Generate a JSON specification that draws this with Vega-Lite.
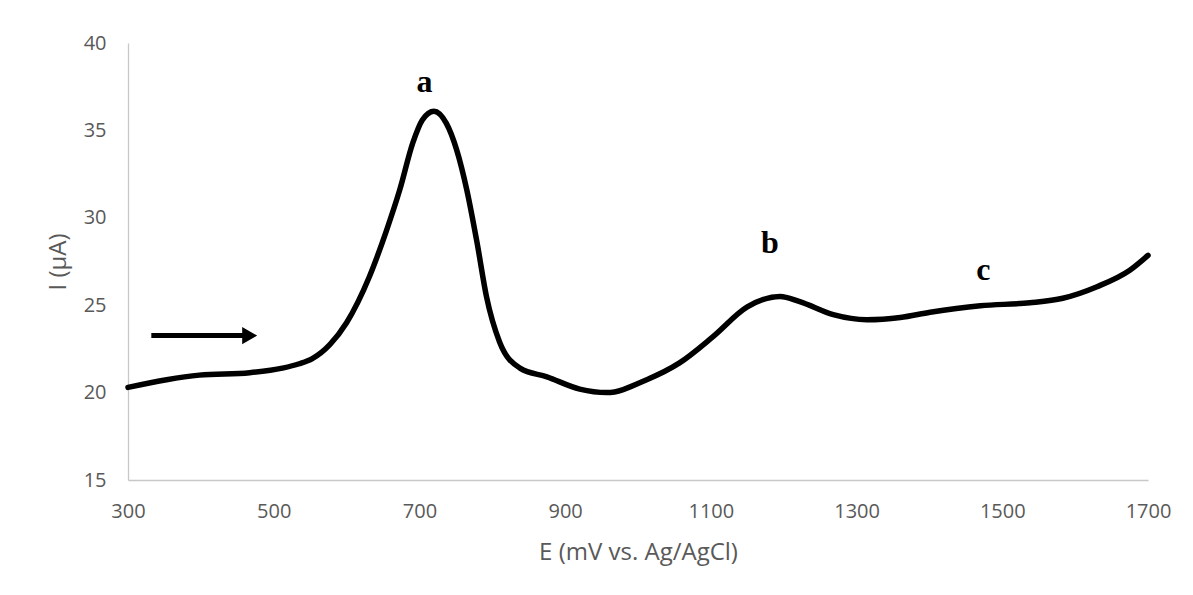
{
  "$schema": "https://vega.github.io/schema/vega-lite/v6.json",
  "width": 1020,
  "height": 437,
  "autosize": {"type": "none"},
  "padding": {"left": 128, "top": 43, "right": 45, "bottom": 115},
  "background": "white",
  "config": {
    "view": {"stroke": null},
    "axis": {
      "grid": false,
      "ticks": false,
      "domainColor": "#c8c8c8",
      "domainWidth": 1.3,
      "labelColor": "#595959",
      "titleColor": "#595959",
      "labelFont": "Open Sans",
      "titleFont": "Open Sans",
      "labelFontSize": 20,
      "titleFontSize": 24,
      "titleFontWeight": "normal",
      "labelFlush": false,
      "labelOverlap": false
    }
  },
  "datasets": {
    "curve": [
      {"E": 300, "I": 20.3},
      {"E": 353, "I": 20.74},
      {"E": 398, "I": 21.0},
      {"E": 467, "I": 21.14},
      {"E": 512, "I": 21.4},
      {"E": 535, "I": 21.65},
      {"E": 553, "I": 21.95},
      {"E": 577, "I": 22.75},
      {"E": 600, "I": 24.0},
      {"E": 631, "I": 26.6},
      {"E": 655, "I": 29.3},
      {"E": 673, "I": 31.6},
      {"E": 691, "I": 34.3},
      {"E": 704, "I": 35.6},
      {"E": 720, "I": 36.1},
      {"E": 737, "I": 35.4},
      {"E": 751, "I": 33.9},
      {"E": 765, "I": 31.6},
      {"E": 779, "I": 28.6},
      {"E": 792, "I": 25.5},
      {"E": 810, "I": 22.9},
      {"E": 838, "I": 21.4},
      {"E": 875, "I": 20.9},
      {"E": 920, "I": 20.2},
      {"E": 957, "I": 20.0},
      {"E": 1012, "I": 20.74},
      {"E": 1057, "I": 21.7},
      {"E": 1103, "I": 23.2},
      {"E": 1150, "I": 24.9},
      {"E": 1195, "I": 25.5},
      {"E": 1222, "I": 25.2},
      {"E": 1268, "I": 24.46},
      {"E": 1314, "I": 24.17},
      {"E": 1360, "I": 24.3},
      {"E": 1401, "I": 24.6},
      {"E": 1470, "I": 24.97},
      {"E": 1538, "I": 25.14},
      {"E": 1583, "I": 25.4},
      {"E": 1630, "I": 26.06},
      {"E": 1675, "I": 27.0},
      {"E": 1700, "I": 27.85}
    ],
    "arrow": [{"E": 332, "E2": 458, "I": 23.26, "Ehead": 467}],
    "labels": [
      {"E": 707, "I": 37.77, "label": "a"},
      {"E": 1181, "I": 28.57, "label": "b"},
      {"E": 1474, "I": 27.03, "label": "c"}
    ]
  },
  "layer": [
    {
      "data": {"name": "curve"},
      "mark": {"type": "line", "color": "black", "strokeWidth": 5.5, "interpolate": "monotone", "strokeCap": "round"},
      "encoding": {
        "x": {
          "field": "E", "type": "quantitative",
          "scale": {"domain": [300, 1700], "nice": false, "zero": false},
          "axis": {"values": [300, 500, 700, 900, 1100, 1300, 1500, 1700], "format": "d", "title": "E (mV vs. Ag/AgCl)", "labelPadding": 21, "titlePadding": 19}
        },
        "y": {
          "field": "I", "type": "quantitative",
          "scale": {"domain": [15, 40], "nice": false, "zero": false},
          "axis": {"values": [15, 20, 25, 30, 35, 40], "format": "d", "title": "I (µA)", "labelPadding": 22, "titlePadding": 13}
        }
      }
    },
    {
      "data": {"name": "arrow"},
      "mark": {"type": "rule", "color": "black", "strokeWidth": 5},
      "encoding": {
        "x": {"field": "E", "type": "quantitative"},
        "x2": {"field": "E2"},
        "y": {"field": "I", "type": "quantitative"}
      }
    },
    {
      "data": {"name": "arrow"},
      "mark": {"type": "point", "shape": "triangle-right", "filled": true, "color": "black", "opacity": 1, "size": 300},
      "encoding": {
        "x": {"field": "Ehead", "type": "quantitative"},
        "y": {"field": "I", "type": "quantitative"}
      }
    },
    {
      "data": {"name": "labels"},
      "mark": {"type": "text", "font": "Liberation Serif", "fontWeight": "bold", "fontSize": 32, "color": "black", "baseline": "middle", "align": "center"},
      "encoding": {
        "x": {"field": "E", "type": "quantitative"},
        "y": {"field": "I", "type": "quantitative"},
        "text": {"field": "label"}
      }
    }
  ]
}
